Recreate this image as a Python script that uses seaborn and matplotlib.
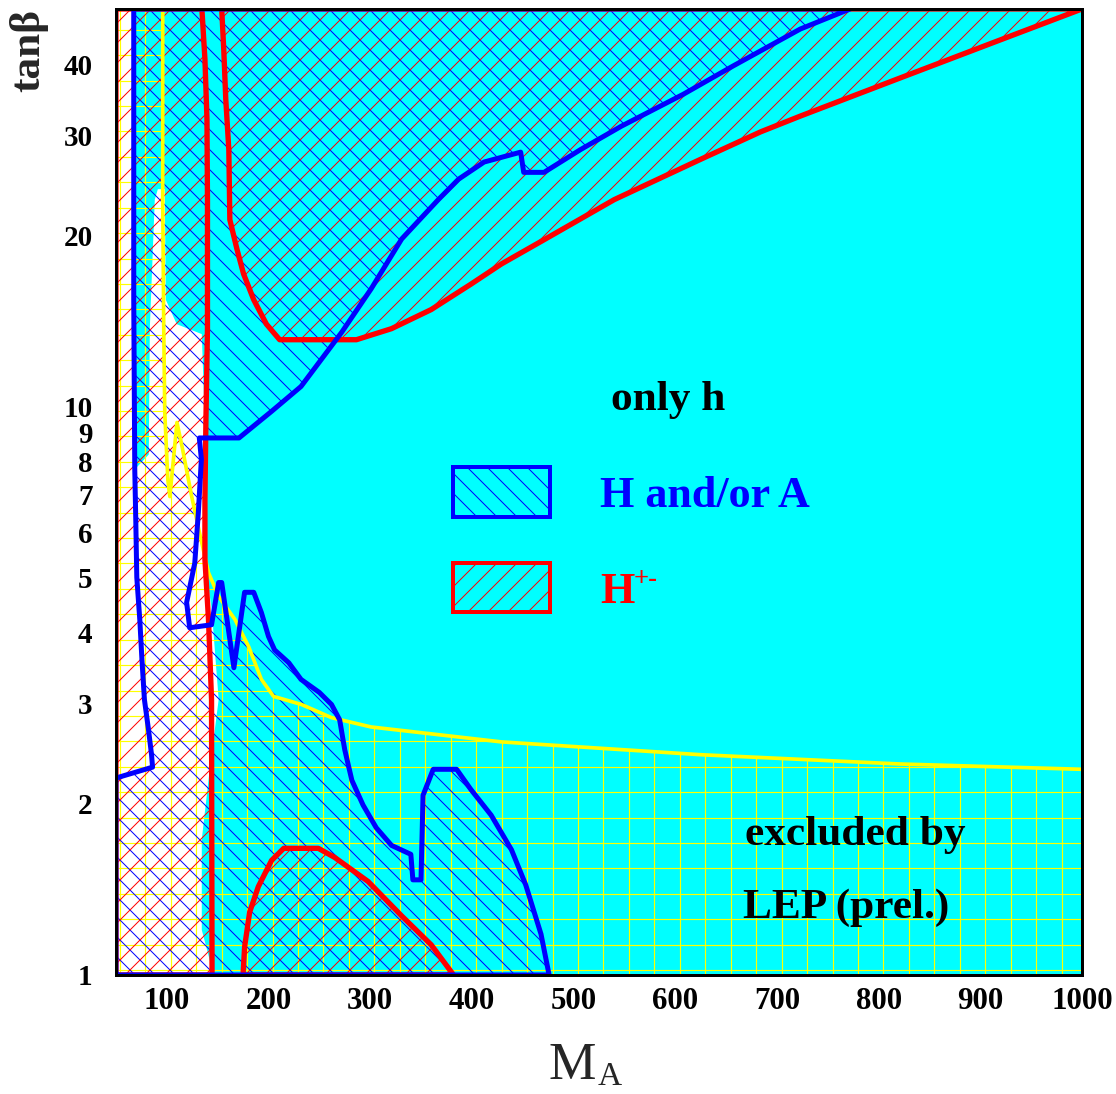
import matplotlib
matplotlib.use('Agg')
import numpy as np
import matplotlib.pyplot as plt
import seaborn as sns
from matplotlib.patches import Polygon, Rectangle
from matplotlib.collections import LineCollection
from matplotlib.ticker import FixedLocator, FixedFormatter, MultipleLocator

# boundaries: M_A [GeV] vs tan(beta)
# H and/or A region, left edge (bottom -> top)
hA_left_ma = [50, 86, 85, 82, 78, 75.5, 73.5, 70.5, 69.5, 68.5, 67.5, 67.5]
hA_left_tb = [2.22, 2.32, 2.44, 2.70, 3.05, 3.6, 4.2, 5.0, 6.3, 7.75, 15.4, 50]
# H and/or A region, upper/right edge (top -> tan(beta)=1)
hA_right_ma = [772, 723, 657, 608, 547, 507, 471, 451, 448, 412, 387, 367, 331, 301,
               272, 232, 203, 171, 132, 134, 131, 127.5, 119.5, 122.5, 144, 151, 154,
               166, 176.5, 185.5, 193, 200, 206, 220, 232, 250, 262, 270, 275, 282,
               293, 306, 321, 340, 342, 350, 352, 362, 385, 399, 419, 439, 453, 468, 476]
hA_right_tb = [50, 46.1, 39.7, 35.4, 31.1, 28.3, 25.8, 25.8, 28.0, 26.9, 25.1, 23.1, 19.7, 16.1,
               13.5, 10.84, 9.80, 8.8, 8.8, 8.07, 6.5, 5.3, 4.52, 4.08, 4.13, 4.90, 4.90,
               3.47, 4.71, 4.71, 4.34, 3.94, 3.73, 3.54, 3.31, 3.14, 2.99, 2.81, 2.49, 2.20,
               1.99, 1.815, 1.69, 1.63, 1.47, 1.47, 2.07, 2.30, 2.30, 2.12, 1.91, 1.66, 1.44, 1.18, 1.0]

# H+- : low M_A strip, high tan(beta) region, low tan(beta) dome
hpm_low_ma = [134.5, 137.5, 139.5, 140, 140, 138.5, 137.5, 137.5, 141, 144, 144.5]
hpm_low_tb = [50, 40.8, 32, 23.1, 13.7, 9.5, 6.86, 5.38, 4.22, 3.05, 1]
hpm_high_ma = [154, 156, 158, 161, 162, 169, 175.5, 185.5, 198, 211, 286.5, 321, 360,
               399, 429, 468, 540, 625, 684, 723, 821, 919.5, 1000]
hpm_high_tb = [50, 42.5, 34.7, 28.3, 21.3, 18.9, 17.1, 15.4, 13.95, 13.1, 13.1, 13.7, 14.8,
               16.4, 17.8, 19.5, 23.1, 27.2, 30.4, 32.4, 37.8, 44.1, 50]
hpm_dome_ma = [175, 176.5, 181.5, 190, 203, 215, 249, 265, 298, 331, 360, 382]
hpm_dome_tb = [1.0, 1.12, 1.29, 1.43, 1.59, 1.67, 1.67, 1.61, 1.46, 1.27, 1.13, 1.0]

# LEP (prel.) exclusion boundary
lep_ma = [96, 96, 97, 98, 101, 103, 110, 115, 124.5, 131.5, 141, 151, 167, 180.5,
          193, 205, 232.5, 262, 301, 429, 625, 821, 1000]
lep_tb = [50, 23.1, 13.7, 9.76, 7.44, 6.94, 9.37, 8.5, 6.94, 6.07, 5.10, 4.63, 4.22, 3.78,
          3.31, 3.09, 2.99, 2.835, 2.73, 2.57, 2.44, 2.35, 2.30]

# edge of the white (not allowed) area at low M_A
white_ma = [68.6, 68.6, 82.3, 83.3, 88.2, 91.2, 98, 99, 109.8, 134.4, 137.3, 137.3,
            144.2, 151, 142.2, 134.4, 134.4, 146.1]
white_tb = [50, 7.75, 8.23, 13.7, 23.1, 24.1, 24.1, 15.4, 13.95, 13.4, 9.49, 5.38,
            4.39, 3.05, 2.30, 1.73, 1.2, 1.0]

x_ticks = list(range(100, 1001, 100))
y_major = [1, 10]
y_minor = [2, 3, 4, 5, 6, 7, 8, 9, 20, 30, 40]

CYAN = '#00ffff'
BLUE = '#0000ff'
RED = '#ff0000'
YELLOW = '#ffff00'

sns.set_style('white')
plt.rcParams['font.family'] = ['Liberation Serif', 'DejaVu Serif']
plt.rcParams['font.weight'] = 'bold'
plt.rcParams['hatch.linewidth'] = 0.6

fig = plt.figure(figsize=(9.3, 1094 / 120), dpi=120)
ax = fig.add_axes([0.1039, 0.1088, 0.8656, 0.883])
ax.set_yscale('log')
ax.set_axisbelow(True)


def poly(xs, ys, **kw):
    p = Polygon(np.column_stack([xs, ys]), closed=True, **kw)
    ax.add_patch(p)
    return p


def outline(xs, ys, color, lw, z, close=False):
    xs, ys = list(xs), list(ys)
    if close:
        xs.append(xs[0])
        ys.append(ys[0])
    sns.lineplot(x=xs, y=ys, sort=False, estimator=None, color=color,
                 linewidth=lw, ax=ax, zorder=z)


# cyan allowed area (white stays at low M_A)
poly(white_ma + [1000, 1000], white_tb + [1, 50], facecolor=CYAN, edgecolor='none', zorder=0.8)

# LEP excluded: yellow grid
lep_x = [50] + lep_ma + [1000, 50]
lep_y = [50] + lep_tb + [1, 1]
lep_patch = poly(lep_x, lep_y, facecolor='none', edgecolor='none', zorder=0.9)
segs = []
for v in np.arange(0.004, 1.0, 0.02635):
    segs.append([(v, 0), (v, 1)])
for h in np.arange(0.005, 1.0, 0.02631):
    segs.append([(0, h), (1, h)])
grid = LineCollection(segs, colors=YELLOW, linewidths=0.7, transform=ax.transAxes, zorder=1)
ax.add_collection(grid)
grid.set_clip_path(lep_patch)

# hatched discovery regions
blue_x = [50] + hA_left_ma + hA_right_ma
blue_y = [1] + hA_left_tb + hA_right_tb
poly(blue_x, blue_y, facecolor='none', edgecolor=BLUE, hatch='\\\\', linewidth=0, zorder=2)

red_low_x = [50, 50] + hpm_low_ma
red_low_y = [1, 50] + hpm_low_tb
poly(red_low_x, red_low_y, facecolor='none', edgecolor=RED, hatch='//', linewidth=0, zorder=2)
poly(hpm_high_ma, hpm_high_tb, facecolor='none', edgecolor=RED, hatch='//', linewidth=0, zorder=2)
poly(hpm_dome_ma, hpm_dome_tb, facecolor='none', edgecolor=RED, hatch='//', linewidth=0, zorder=2)

# boundary lines
outline(lep_ma, lep_tb, YELLOW, 2.2, 3)
outline(red_low_x, red_low_y, RED, 3.2, 4, close=True)
outline(hpm_high_ma, hpm_high_tb, RED, 3.2, 4, close=True)
outline(hpm_dome_ma, hpm_dome_tb, RED, 3.2, 4, close=True)
outline(blue_x, blue_y, BLUE, 3.0, 5, close=True)

# legend boxes and labels
ax.add_patch(Rectangle((0.349, 0.474), 0.100, 0.052, transform=ax.transAxes,
                       facecolor='none', edgecolor=BLUE, hatch='\\\\', linewidth=2.4, zorder=6))
ax.add_patch(Rectangle((0.349, 0.376), 0.100, 0.0505, transform=ax.transAxes,
                       facecolor='none', edgecolor=RED, hatch='//', linewidth=2.4, zorder=6))
ax.text(0.5124, 0.5849, 'only h', transform=ax.transAxes, fontsize=26, color='black',
        ha='left', va='baseline', zorder=7)
ax.text(0.501, 0.4845, 'H and/or A', transform=ax.transAxes, fontsize=26.5, color=BLUE,
        ha='left', va='baseline', zorder=7)
ax.text(0.501, 0.3851, 'H', transform=ax.transAxes, fontsize=26.5, color=RED,
        ha='left', va='baseline', zorder=7)
ax.text(0.5362, 0.4027, '+-', transform=ax.transAxes, fontsize=16, color=RED,
        ha='left', va='baseline', zorder=7)
ax.text(0.6511, 0.1346, 'excluded by', transform=ax.transAxes, fontsize=26, color='black',
        ha='left', va='baseline', zorder=7)
ax.text(0.649, 0.059, 'LEP (prel.)', transform=ax.transAxes, fontsize=26, color='black',
        ha='left', va='baseline', zorder=7)

# axes
ax.set_xlim(50, 1000)
ax.set_ylim(1, 50)
ax.set_xlabel('')
ax.set_ylabel('')
ax.xaxis.set_major_locator(FixedLocator(x_ticks))
ax.xaxis.set_major_formatter(FixedFormatter([str(t) for t in x_ticks]))
ax.xaxis.set_minor_locator(MultipleLocator(20))
ax.yaxis.set_major_locator(FixedLocator(y_major))
ax.yaxis.set_major_formatter(FixedFormatter([str(t) for t in y_major]))
ax.yaxis.set_minor_locator(FixedLocator(y_minor))
ax.yaxis.set_minor_formatter(FixedFormatter([str(t) for t in y_minor]))
ax.tick_params(axis='both', which='both', direction='in', top=False, right=False,
               color='black', width=1.2, labelsize=18.5, labelcolor='black')
ax.tick_params(axis='y', which='both', labelsize=17.5)
ax.tick_params(axis='x', which='major', length=9, pad=7)
ax.tick_params(axis='x', which='minor', length=4.8)
ax.tick_params(axis='y', which='major', length=7.2, pad=14)
ax.tick_params(axis='y', which='minor', length=3.6, pad=14)
for sp in ax.spines.values():
    sp.set_visible(True)
    sp.set_color('black')
    sp.set_linewidth(1.8)
    sp.set_zorder(20)

fig.text(29 / 1116, 1 - 50 / 1094, 'tanβ', rotation=90, fontsize=26,
         ha='center', va='center')
fig.text(548 / 1116, 1 - 1079 / 1094, 'M', fontsize=32, fontweight='normal',
         ha='left', va='baseline')
fig.text(598 / 1116, 1 - 1085 / 1094, 'A', fontsize=20, fontweight='normal',
         ha='left', va='baseline')

fig.savefig('out.png', dpi=120)
